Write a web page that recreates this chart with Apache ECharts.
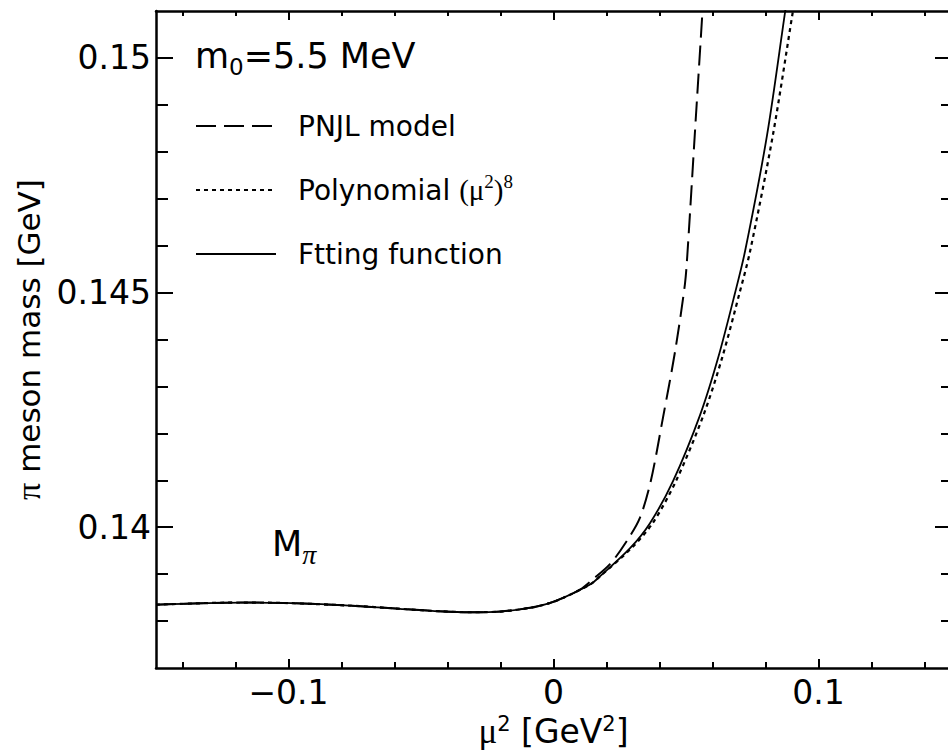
<!DOCTYPE html>
<html>
<head>
<meta charset="utf-8">
<script src="https://cdn.jsdelivr.net/npm/echarts@6/dist/echarts.min.js"></script>
<style>
html,body{margin:0;padding:0;background:#fff;}
#chart{width:948px;height:750px;}
</style>
</head>
<body>
<div id="chart"></div>
<script>
// ---- axis ranges and ticks ----
const xMin = -0.15, xMax = 0.15;
const yMin = 0.137, yMax = 0.151;
const xMajorTicks = [-0.1, 0, 0.1];
const xMinorTicks = [-0.14, -0.12, -0.08, -0.06, -0.04, -0.02, 0.02, 0.04, 0.06, 0.08, 0.12, 0.14];
const yMajorTicks = [0.14, 0.145, 0.15];
const yMinorTicks = [0.138, 0.139, 0.141, 0.142, 0.143, 0.144, 0.146, 0.147, 0.148, 0.149];

// ---- series values ----
// Fitting function (solid)
const fitX = [-0.150, -0.118, -0.102, -0.077, -0.058, -0.043, -0.0315, -0.020, -0.0077, -0.0013,
  0.0036, 0.0138, 0.0176, 0.0289, 0.0364, 0.0451, 0.0553, 0.0621, 0.0685, 0.0723, 0.0806, 0.0874, 0.0885];
const fitY = [0.13835, 0.138395, 0.138386, 0.13833, 0.138262, 0.138209, 0.138188, 0.138203, 0.138294, 0.138386,
  0.138493, 0.138779, 0.138956, 0.139553, 0.140086, 0.140981, 0.142389, 0.143604, 0.14499, 0.145885, 0.148359, 0.150981, 0.1514];
// Polynomial (mu^2)^8 (dotted)
const polyX = [-0.150, -0.118, -0.102, -0.077, -0.058, -0.043, -0.0315, -0.020, -0.0077, -0.0013,
  0.0036, 0.0138, 0.0176, 0.0294, 0.0374, 0.0462, 0.0566, 0.0636, 0.0702, 0.0742, 0.0828, 0.0903, 0.0915];
const polyY = [0.13835, 0.138395, 0.138386, 0.13833, 0.138262, 0.138209, 0.138188, 0.138203, 0.138294, 0.138386,
  0.138493, 0.138779, 0.138956, 0.139553, 0.140086, 0.140981, 0.142389, 0.143604, 0.14499, 0.145885, 0.148359, 0.150981, 0.1514];
// PNJL model (dashed)
const pnjlX = [-0.150, -0.118, -0.102, -0.077, -0.058, -0.043, -0.0315, -0.020, -0.0077, -0.0013,
  0.0036, 0.0100, 0.0149, 0.0213, 0.0276, 0.0326, 0.0367, 0.0413, 0.0459, 0.0496, 0.0506, 0.0534, 0.0562, 0.0566];
const pnjlY = [0.13835, 0.138395, 0.138386, 0.13833, 0.138262, 0.138209, 0.138188, 0.138203, 0.138294, 0.138386,
  0.138493, 0.138670, 0.138892, 0.139212, 0.139702, 0.140199, 0.140981, 0.142331, 0.143753, 0.145182, 0.145885, 0.148444, 0.150981, 0.1514];

const zip = (xs, ys) => xs.map((x, i) => [x, ys[i]]);

const FONT = 'DejaVu Sans';
const SERIF = 'Liberation Serif';

function xAxisDef(pos, ticks, len, withLabels, withLine) {
  return {
    type: 'value', min: xMin, max: xMax, position: pos, gridIndex: 0,
    axisLine: {show: withLine, onZero: false, lineStyle: {color: '#000', width: 2.5}},
    axisTick: {show: true, inside: true, length: len, customValues: ticks, lineStyle: {color: '#000', width: 2}},
    axisLabel: withLabels ? {
      show: true, customValues: xMajorTicks, margin: 8,
      fontFamily: FONT, fontSize: 33, color: '#000',
      formatter: v => (v < 0 ? '\u2212' + String(Math.abs(v)) : String(v))
    } : {show: false},
    splitLine: {show: false}
  };
}
function yAxisDef(pos, ticks, len, withLabels, withLine) {
  return {
    type: 'value', min: yMin, max: yMax, position: pos, gridIndex: 0,
    axisLine: {show: withLine, onZero: false, lineStyle: {color: '#000', width: 2.5}},
    axisTick: {show: true, inside: true, length: len, customValues: ticks, lineStyle: {color: '#000', width: 2}},
    axisLabel: withLabels ? {
      show: true, customValues: yMajorTicks, margin: 5,
      fontFamily: FONT, fontSize: 33, color: '#000',
      formatter: v => String(v)
    } : {show: false},
    splitLine: {show: false}
  };
}

const xAxes = [
  xAxisDef('bottom', xMajorTicks, 9, true, true),
  xAxisDef('bottom', xMinorTicks, 6, false, false),
  xAxisDef('top', xMajorTicks, 9, false, true),
  xAxisDef('top', xMinorTicks, 5, false, false)
];
xAxes[0].name = '{m|\u03bc}{sup|2}{t| [GeV}{sup|2}{t|]}';
xAxes[0].nameLocation = 'middle';
xAxes[0].nameGap = 40;
xAxes[0].nameTextStyle = {
  color: '#000', fontFamily: FONT, fontSize: 33,
  rich: {
    m: {fontFamily: SERIF, fontSize: 35, color: '#000', lineHeight: 36},
    t: {fontFamily: FONT, fontSize: 33, color: '#000', lineHeight: 36},
    sup: {fontFamily: FONT, fontSize: 21, color: '#000', verticalAlign: 'top', lineHeight: 36}
  }
};

const yAxes = [
  yAxisDef('left', yMajorTicks, 17, true, true),
  yAxisDef('left', yMinorTicks, 12, false, false),
  yAxisDef('right', yMajorTicks, 16, false, true),
  yAxisDef('right', yMinorTicks, 10, false, false)
];
yAxes[0].name = '{p|\u03c0}{t| meson mass [GeV]}';
yAxes[0].nameLocation = 'middle';
yAxes[0].nameGap = 96;
yAxes[0].nameTextStyle = {
  color: '#000', fontFamily: FONT, fontSize: 31,
  rich: {
    p: {fontFamily: SERIF, fontSize: 34, color: '#000'},
    t: {fontFamily: FONT, fontSize: 31, color: '#000'}
  }
};

const option = {
  animation: false,
  backgroundColor: '#fff',
  grid: {left: 156, right: -3, top: 11, bottom: 82, containLabel: false, outerBoundsMode: 'none'},
  xAxis: xAxes,
  yAxis: yAxes,
  legend: {
    orient: 'vertical', left: 190, top: 103,
    itemWidth: 80, itemHeight: 14, itemGap: 28,
    selectedMode: false,
    itemStyle: {opacity: 0, borderWidth: 0},
    data: ['PNJL model', 'Polynomial', 'Ftting function'],
    formatter: name => name === 'Polynomial'
      ? 'Polynomial {s|(\u03bc}{sup|2}{s|)}{sup|8}'
      : name,
    textStyle: {
      fontFamily: FONT, fontSize: 28, color: '#000', lineHeight: 36, padding: [0, 0, 0, 17],
      rich: {
        s: {fontFamily: SERIF, fontSize: 29, color: '#000', lineHeight: 36},
        sup: {fontFamily: SERIF, fontSize: 19, color: '#000', verticalAlign: 'top', lineHeight: 36}
      }
    }
  },
  graphic: [
    {
      type: 'text', left: 195, top: 38,
      style: {
        text: '{a|m}{b|0}{a|=5.5 MeV}',
        rich: {
          a: {fontFamily: FONT, fontSize: 35, fill: '#000', verticalAlign: 'top', lineHeight: 40},
          b: {fontFamily: FONT, fontSize: 23, fill: '#000', verticalAlign: 'bottom', lineHeight: 40}
        }
      }
    },
    {
      type: 'text', left: 272, top: 526,
      style: {
        text: '{a|M}{b|\u03c0}',
        rich: {
          a: {fontFamily: FONT, fontSize: 35, fill: '#000', verticalAlign: 'top', lineHeight: 42},
          b: {fontFamily: SERIF, fontStyle: 'italic', fontSize: 28, fill: '#000', verticalAlign: 'bottom', lineHeight: 42}
        }
      }
    }
  ],
  series: [
    {
      type: 'line', name: 'PNJL model', data: zip(pnjlX, pnjlY),
      xAxisIndex: 0, yAxisIndex: 0, symbol: 'none', showSymbol: false,
      smooth: 0.3, clip: true,
      lineStyle: {color: '#000', width: 2, type: [20, 8]}, itemStyle: {color: '#000'}
    },
    {
      type: 'line', name: 'Polynomial', data: zip(polyX, polyY),
      xAxisIndex: 0, yAxisIndex: 0, symbol: 'none', showSymbol: false,
      smooth: 0.3, clip: true,
      lineStyle: {color: '#000', width: 2.2, type: [4, 4]}, itemStyle: {color: '#000'}
    },
    {
      type: 'line', name: 'Ftting function', data: zip(fitX, fitY),
      xAxisIndex: 0, yAxisIndex: 0, symbol: 'none', showSymbol: false,
      smooth: 0.3, clip: true,
      lineStyle: {color: '#000', width: 1.8, type: 'solid'}, itemStyle: {color: '#000'}
    }
  ]
};

const chart = echarts.init(document.getElementById('chart'), null, {renderer: 'svg'});
chart.setOption(option);
</script>
</body>
</html>
